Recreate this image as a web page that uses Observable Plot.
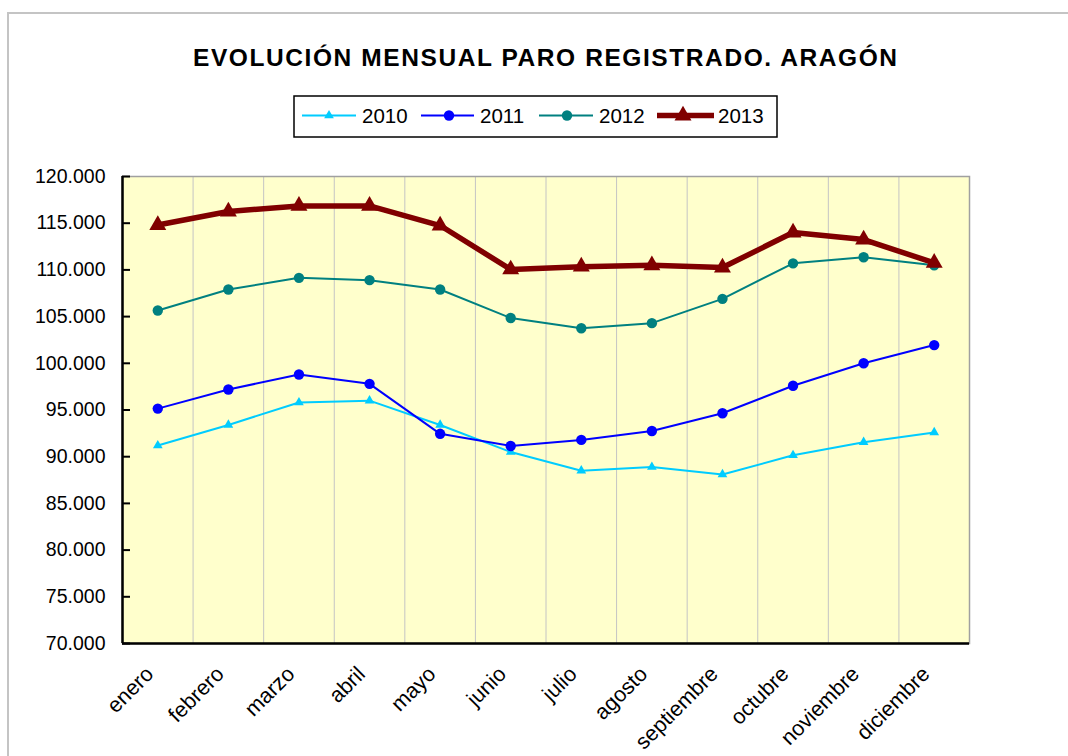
<!DOCTYPE html>
<html><head><meta charset="utf-8">
<script src="https://cdn.jsdelivr.net/npm/d3@7"></script>
<script src="https://cdn.jsdelivr.net/npm/@observablehq/plot@0.6"></script>
<style>
body{margin:0;background:#fff;font-family:"Liberation Sans",Arial,sans-serif;}
#wrap{position:relative;width:1068px;height:756px;overflow:hidden;background:#fff;}
#border{position:absolute;left:7px;top:12px;width:1100px;height:800px;border:2px solid #c4c4c4;box-sizing:border-box;}
#head{position:absolute;left:0;top:0;}
#chart{position:absolute;left:0;top:150px;}
</style></head>
<body><div id="wrap"><div id="border"></div><div id="head"></div><div id="chart"></div></div>
<script>
const months = ["enero","febrero","marzo","abril","mayo","junio","julio","agosto","septiembre","octubre","noviembre","diciembre"];
const years = ["2010","2011","2012","2013"];
const v2010 = [91200, 93400, 95800, 96000, 93400, 90500, 88500, 88900, 88100, 90150, 91550, 92600];
const v2011 = [95150, 97200, 98800, 97800, 92450, 91150, 91800, 92750, 94650, 97600, 100000, 101950];
const v2012 = [105650, 107900, 109150, 108900, 107900, 104850, 103750, 104300, 106900, 110700, 111350, 110500];
const v2013 = [114800, 116250, 116850, 116850, 114750, 110050, 110350, 110500, 110250, 114000, 113250, 110750];
const yTicks = [70000, 75000, 80000, 85000, 90000, 95000, 100000, 105000, 110000, 115000, 120000];
const title = "EVOLUCIÓN MENSUAL PARO REGISTRADO. ARAGÓN";

const seriesValues = [v2010, v2011, v2012, v2013];
const styles = [
  {color:"#00CCFF", width:2, symbol:"triangle", r:3.6},
  {color:"#0000FF", width:2, symbol:"circle", r:5.2},
  {color:"#008080", width:2, symbol:"circle", r:5.2},
  {color:"#800000", width:5.5, symbol:"triangle", r:6.3}
];
const rows = years.flatMap((yr, s) => seriesValues[s].map((v, i) => ({year: yr, i, month: months[i], value: v})));
const fmt = d => d3.format(",")(d).replace(/,/g, ".");
const bounds = months.slice(1).map((_, k) => k + 0.5);
const xIdx = months.map((_, i) => i);

const marks = [
  Plot.frame({fill:"#FFFFCC", stroke:null}),
  Plot.ruleX(bounds, {stroke:"#c4c4c4", strokeWidth:1}),
  Plot.frame({stroke:"#a0a0a0", strokeWidth:1.5}),
  Plot.ruleX([-0.5], {stroke:"#000", strokeWidth:2.5}),
  Plot.ruleY([70000], {stroke:"#000", strokeWidth:2.5}),
  Plot.axisY(yTicks, {label:null, tickFormat: fmt, tickSize:0, tickPadding:17, fontSize:19.5, fill:"#000"}),
  Plot.axisY(yTicks, {label:null, text:null, tickSize:8, dx:8, strokeWidth:2, stroke:"#000"}),
  Plot.axisX(xIdx, {label:null, tickFormat: i => months[i], tickRotate:-45, tickSize:0, tickPadding:27, dx:-8, fontSize:21.5, fill:"#000"})
];
years.forEach((yr, s) => {
  const st = styles[s];
  const data = rows.filter(d => d.year === yr);
  marks.push(Plot.line(data, {x:"i", y:"value", stroke:st.color, strokeWidth:st.width, strokeLinejoin:"miter"}));
  marks.push(Plot.dot(data, {x:"i", y:"value", symbol:st.symbol, r:st.r, fill:st.color, stroke:null}));
});

const plot = Plot.plot({
  width:1000, height:606,
  marginLeft:122, marginRight:31, marginTop:26, marginBottom:113,
  style:{fontFamily:"'Liberation Sans', Arial, sans-serif", background:"transparent", color:"#000"},
  x:{type:"linear", domain:[-0.5, 11.5], axis:null},
  y:{domain:[70000, 120000], axis:null},
  marks
});
document.getElementById("chart").appendChild(plot);

// title & legend
const head = d3.create("svg").attr("width", 1068).attr("height", 150)
  .style("font-family", "'Liberation Sans', Arial, sans-serif");
head.append("text").attr("x", 545).attr("y", 66).attr("text-anchor", "middle")
  .attr("font-weight", "bold").attr("font-size", 24.5)
  .attr("textLength", 704).attr("lengthAdjust", "spacing").text(title);
head.append("rect").attr("x", 294).attr("y", 96).attr("width", 483).attr("height", 41)
  .attr("fill", "#fff").attr("stroke", "#000").attr("stroke-width", 1.5);
const legPos = [{x1:302,x2:356,cx:329,tx:362},{x1:421,x2:474,cx:449,tx:480},{x1:539,x2:593,cx:567,tx:599},{x1:657,x2:714,cx:683,tx:718}];
const symMap = {triangle: d3.symbolTriangle, circle: d3.symbolCircle};
years.forEach((yr, s) => {
  const st = styles[s], p = legPos[s];
  head.append("line").attr("x1", p.x1).attr("x2", p.x2).attr("y1", 115.5).attr("y2", 115.5)
    .attr("stroke", st.color).attr("stroke-width", st.width);
  head.append("path").attr("transform", `translate(${p.cx},115.5)`)
    .attr("d", d3.symbol(symMap[st.symbol], Math.PI * st.r * st.r)()).attr("fill", st.color);
  head.append("text").attr("x", p.tx).attr("y", 123.3).attr("font-size", 20.5).text(yr);
});
document.getElementById("head").appendChild(head.node());
</script>
</body></html>
